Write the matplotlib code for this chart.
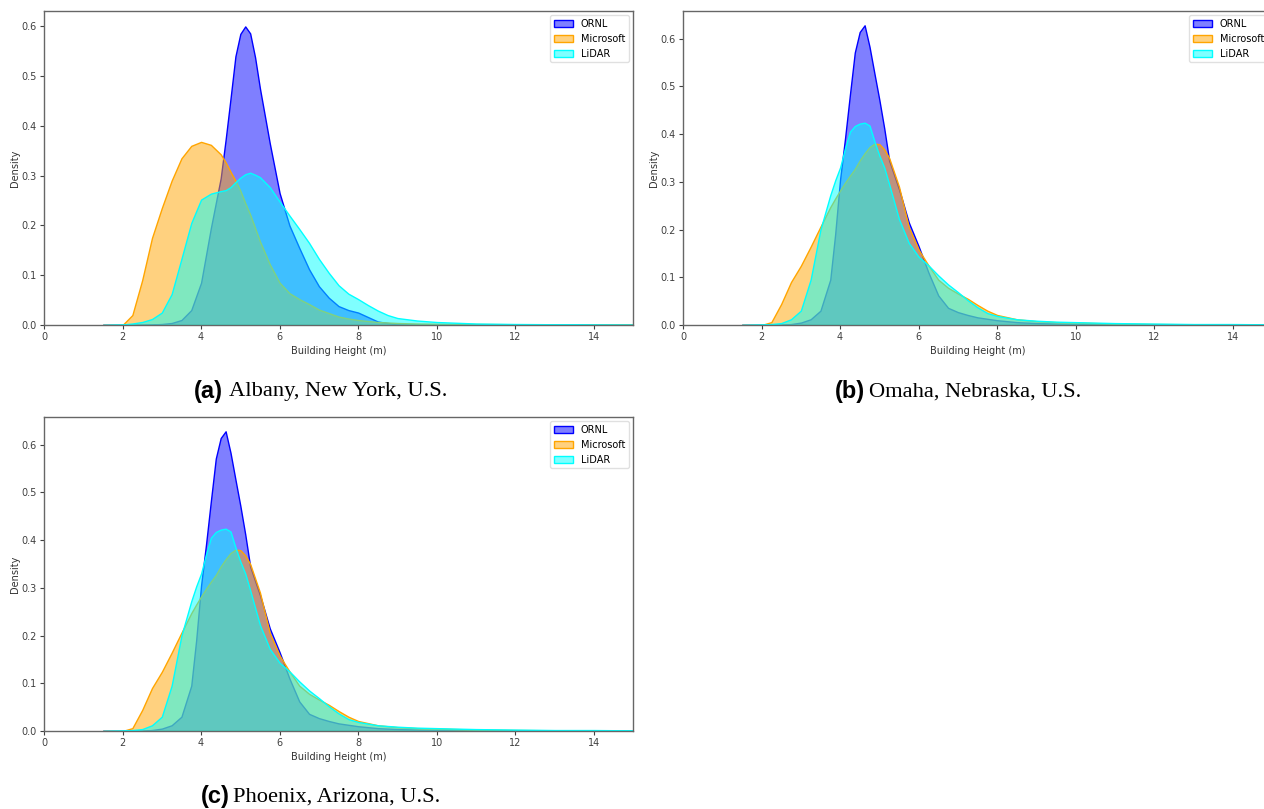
import matplotlib
matplotlib.use("Agg")
import matplotlib.pyplot as plt
from matplotlib.patches import Patch
from matplotlib.colors import to_rgba

# ---------------- data ----------------
series_names = ["ORNL", "Microsoft", "LiDAR"]
series_colors = ["blue", "orange", "cyan"]
x_ticks = [0, 2, 4, 6, 8, 10, 12, 14]
y_ticks = [0.0, 0.1, 0.2, 0.3, 0.4, 0.5, 0.6]

# (a) Albany, New York
albany_height = [1.5, 2.0, 2.25, 2.5, 2.75, 3.0, 3.25, 3.5, 3.75, 4.0, 4.25, 4.5, 4.625,
                 4.75, 4.875, 5.0, 5.125, 5.25, 5.375, 5.5, 5.75, 6.0, 6.25, 6.5, 6.75,
                 7.0, 7.25, 7.5, 7.75, 8.0, 8.25, 8.5, 8.75, 9.0, 9.5, 10.0, 11.0, 12.0,
                 13.0, 14.0, 15.5]
albany_ornl = [0.0, 0.0, 0.0, 0.0005, 0.001, 0.002, 0.004, 0.010, 0.030, 0.085, 0.195,
               0.295, 0.372, 0.455, 0.540, 0.585, 0.600, 0.586, 0.538, 0.475, 0.365,
               0.265, 0.200, 0.155, 0.112, 0.078, 0.055, 0.038, 0.030, 0.025, 0.016,
               0.007, 0.004, 0.002, 0.001, 0.0005, 0.0002, 0.0001, 0.0, 0.0, 0.0]
albany_microsoft = [0.0, 0.0, 0.020, 0.090, 0.175, 0.235, 0.290, 0.335, 0.360, 0.368,
                    0.362, 0.343, 0.327, 0.308, 0.290, 0.270, 0.245, 0.222, 0.195, 0.168,
                    0.122, 0.085, 0.064, 0.052, 0.042, 0.031, 0.024, 0.017, 0.013, 0.010,
                    0.008, 0.006, 0.005, 0.004, 0.003, 0.0025, 0.002, 0.0015, 0.001,
                    0.0008, 0.0005]
albany_lidar = [0.0, 0.001, 0.003, 0.006, 0.012, 0.025, 0.062, 0.133, 0.205, 0.252, 0.264,
                0.269, 0.271, 0.277, 0.287, 0.296, 0.303, 0.306, 0.302, 0.297, 0.277,
                0.248, 0.220, 0.193, 0.165, 0.133, 0.105, 0.080, 0.063, 0.052, 0.040,
                0.029, 0.020, 0.014, 0.009, 0.006, 0.003, 0.002, 0.0015, 0.001, 0.0005]

# (b) Omaha, Nebraska  /  (c) Phoenix, Arizona (identical curves in the reference)
omaha_height = [1.5, 2.0, 2.25, 2.5, 2.75, 3.0, 3.25, 3.5, 3.75, 3.875, 4.0, 4.125, 4.25,
                4.375, 4.5, 4.625, 4.75, 4.875, 5.0, 5.125, 5.25, 5.5, 5.75, 6.0, 6.25,
                6.5, 6.75, 7.0, 7.25, 7.5, 7.75, 8.0, 8.5, 9.0, 9.5, 10.0, 11.0, 12.0,
                13.0, 14.0, 15.5]
omaha_ornl = [0.0, 0.0, 0.0, 0.0005, 0.002, 0.005, 0.012, 0.030, 0.095, 0.190, 0.305,
              0.390, 0.482, 0.571, 0.614, 0.628, 0.583, 0.527, 0.472, 0.412, 0.345,
              0.285, 0.215, 0.165, 0.110, 0.062, 0.036, 0.027, 0.021, 0.016, 0.013,
              0.010, 0.006, 0.004, 0.003, 0.002, 0.001, 0.0007, 0.0005, 0.0003, 0.0002]
omaha_microsoft = [0.0, 0.0, 0.006, 0.044, 0.090, 0.124, 0.164, 0.206, 0.247, 0.265,
                   0.282, 0.298, 0.313, 0.327, 0.345, 0.360, 0.373, 0.380, 0.379, 0.368,
                   0.350, 0.290, 0.205, 0.158, 0.125, 0.095, 0.078, 0.066, 0.055, 0.042,
                   0.030, 0.021, 0.012, 0.008, 0.006, 0.005, 0.003, 0.002, 0.0015, 0.001,
                   0.0005]
omaha_lidar = [0.0, 0.001, 0.002, 0.004, 0.012, 0.030, 0.095, 0.200, 0.272, 0.303, 0.330,
               0.370, 0.405, 0.417, 0.422, 0.424, 0.418, 0.385, 0.355, 0.330, 0.295,
               0.222, 0.172, 0.143, 0.125, 0.104, 0.085, 0.069, 0.052, 0.037, 0.025,
               0.019, 0.012, 0.009, 0.007, 0.006, 0.004, 0.003, 0.002, 0.002, 0.001]

phoenix_height = omaha_height
phoenix_ornl = omaha_ornl
phoenix_microsoft = omaha_microsoft
phoenix_lidar = omaha_lidar

panels = [
    dict(letter="(a)", city="Albany, New York, U.S.", x=albany_height,
         ys=[albany_ornl, albany_microsoft, albany_lidar], ytop=0.631),
    dict(letter="(b)", city="Omaha, Nebraska, U.S.", x=omaha_height,
         ys=[omaha_ornl, omaha_microsoft, omaha_lidar], ytop=0.658),
    dict(letter="(c)", city="Phoenix, Arizona, U.S.", x=phoenix_height,
         ys=[phoenix_ornl, phoenix_microsoft, phoenix_lidar], ytop=0.658),
]

# ---------------- layout ----------------
W, H = 1264, 809
fig = plt.figure(figsize=(W / 100, H / 100), dpi=100)
plt.rcParams['font.family'] = ['DejaVu Sans']

# axes boxes in pixels: left, top, width, height
boxes = [(44, 11, 589, 314), (683, 11, 589, 314), (44, 417, 589, 314)]
captions = [(223, 229, 392), (865, 869, 392), (230, 233, 797)]

for p, (l, t, w, h), (xr, xl, yc) in zip(panels, boxes, captions):
    ax = fig.add_axes([l / W, 1 - (t + h) / H, w / W, h / H])
    for y, name, c in zip(p["ys"], series_names, series_colors):
        ax.fill_between(p["x"], 0, y, facecolor=to_rgba(c, 0.5),
                        edgecolor=to_rgba(c, 1.0), linewidth=1.0, label=name)
    ax.set_xlim(0, 15)
    ax.set_ylim(0, p["ytop"])
    ax.set_xticks(x_ticks)
    ax.set_yticks(y_ticks)
    ax.set_yticklabels([f"{v:.1f}" for v in y_ticks])
    ax.tick_params(labelsize=7, length=3, width=0.8, colors="0.25", pad=2)
    for s in ax.spines.values():
        s.set_color("0.4")
        s.set_linewidth(1.0)
    ax.set_xlabel("Building Height (m)", fontsize=7, color="0.2", labelpad=3)
    ax.set_ylabel("Density", fontsize=7, color="0.2", labelpad=1)
    handles = [Patch(facecolor=to_rgba(c, 0.5), edgecolor=c, linewidth=1.0)
               for c in series_colors]
    ax.legend(handles, series_names, loc="upper right", fontsize=7,
              framealpha=0.8, edgecolor="0.85", handlelength=2.0,
              borderaxespad=0.4)

    fig.text(xr / W, 1 - yc / H, p["letter"], ha="right", va="center",
             fontsize=17, fontweight="bold", family="Liberation Sans")
    fig.text(xl / W, 1 - yc / H, p["city"], ha="left", va="center",
             fontsize=16.2, family="Liberation Serif")

fig.savefig("out.png", dpi=100)
